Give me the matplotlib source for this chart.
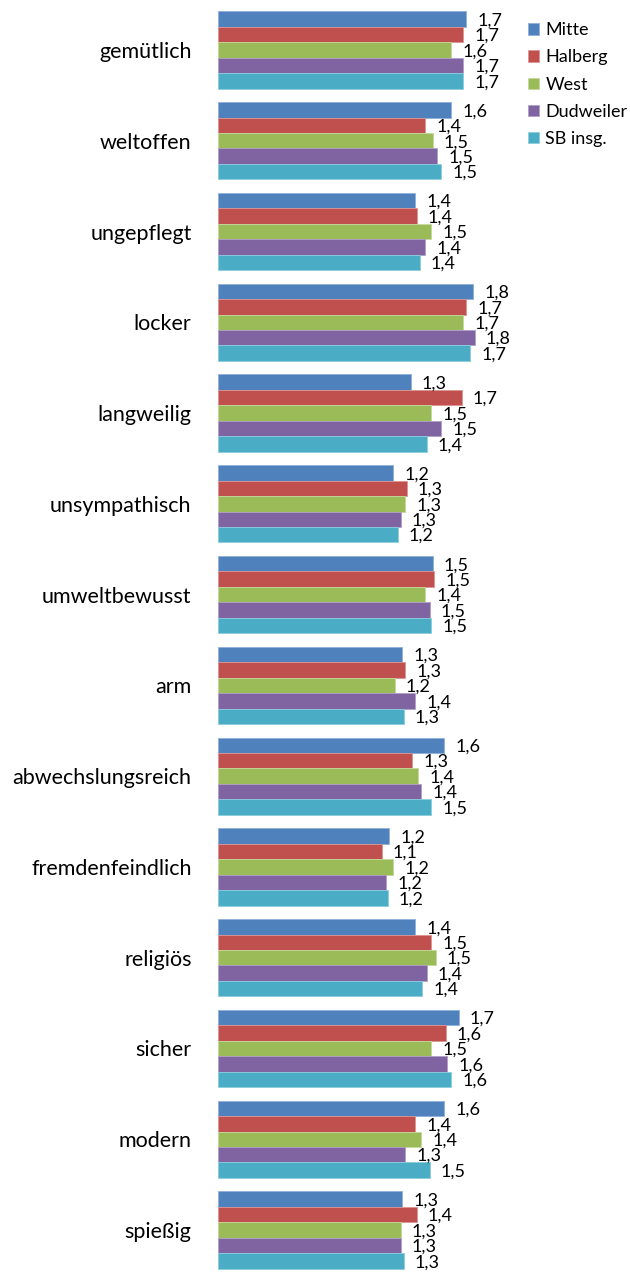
"""
Eigenschaften der Stadtteile - Mittelwerte als gruppierte Balken.
Saves out.png (630x1273).
"""
import numpy as np
import matplotlib
matplotlib.use("Agg")
import matplotlib.pyplot as plt

plt.rcParams["font.family"] = ["Lato", "DejaVu Sans"]

categories = ["gemütlich", "weltoffen", "ungepflegt", "locker", "langweilig",
              "unsympathisch", "umweltbewusst", "arm", "abwechslungsreich",
              "fremdenfeindlich", "religiös", "sicher", "modern", "spießig"]

series = ["Mitte", "Halberg", "West", "Dudweiler", "SB insg."]

mitte     = [1.71, 1.61, 1.36, 1.76, 1.33, 1.21, 1.48, 1.27, 1.56, 1.18, 1.36, 1.66, 1.56, 1.27]
halberg   = [1.69, 1.43, 1.37, 1.71, 1.68, 1.30, 1.49, 1.29, 1.34, 1.13, 1.47, 1.57, 1.36, 1.37]
west      = [1.61, 1.48, 1.47, 1.69, 1.47, 1.29, 1.43, 1.22, 1.38, 1.21, 1.50, 1.47, 1.40, 1.26]
dudweiler = [1.69, 1.51, 1.43, 1.77, 1.54, 1.26, 1.46, 1.36, 1.40, 1.16, 1.44, 1.58, 1.29, 1.26]
sb_insg   = [1.69, 1.54, 1.39, 1.74, 1.44, 1.24, 1.47, 1.28, 1.47, 1.17, 1.41, 1.61, 1.46, 1.28]

values = [mitte, halberg, west, dudweiler, sb_insg]
colors = ["#4F81BD", "#C0504D", "#9BBB59", "#8064A2", "#4BACC6"]
edges  = ["#8FB0DA", "#DC9593", "#C4D99B", "#B09FC8", "#8CCDDD"]

fig = plt.figure(figsize=(6.3, 12.73), dpi=100)
ax = fig.add_axes([218 / 630, -2.4 / 1273, 290 / 630, 1270.8 / 1273])

y = np.arange(len(categories))
h = 0.17
for k, (name, vals) in enumerate(zip(series, values)):
    pos = y + (k - 2) * h
    bars = ax.barh(pos, vals, height=h, color=colors[k], edgecolor=edges[k],
                   linewidth=0.6, label=name)
    for bar, v in zip(bars, vals):
        ax.annotate(f"{v:.1f}".replace(".", ","),
                    (bar.get_width(), bar.get_y() + bar.get_height() / 2),
                    xytext=(8, -1), textcoords="offset points",
                    ha="left", va="center", fontsize=13, color="#000000")

ax.set_xlim(0, 2.0)
ax.set_ylim(len(categories) - 0.5, -0.5)
ax.set_yticks(y)
ax.set_yticklabels(categories, fontsize=15.5)
ax.tick_params(axis="y", length=0, pad=19)
ax.set_xticks([])
for s in ax.spines.values():
    s.set_visible(False)

fig.legend(loc="upper left", bbox_to_anchor=(521 / 630, 1 - 15 / 1273),
           frameon=False, fontsize=13, handlelength=0.6, handleheight=0.6,
           handletextpad=0.35, labelspacing=0.62, borderaxespad=0)

fig.savefig("out.png", dpi=100)
